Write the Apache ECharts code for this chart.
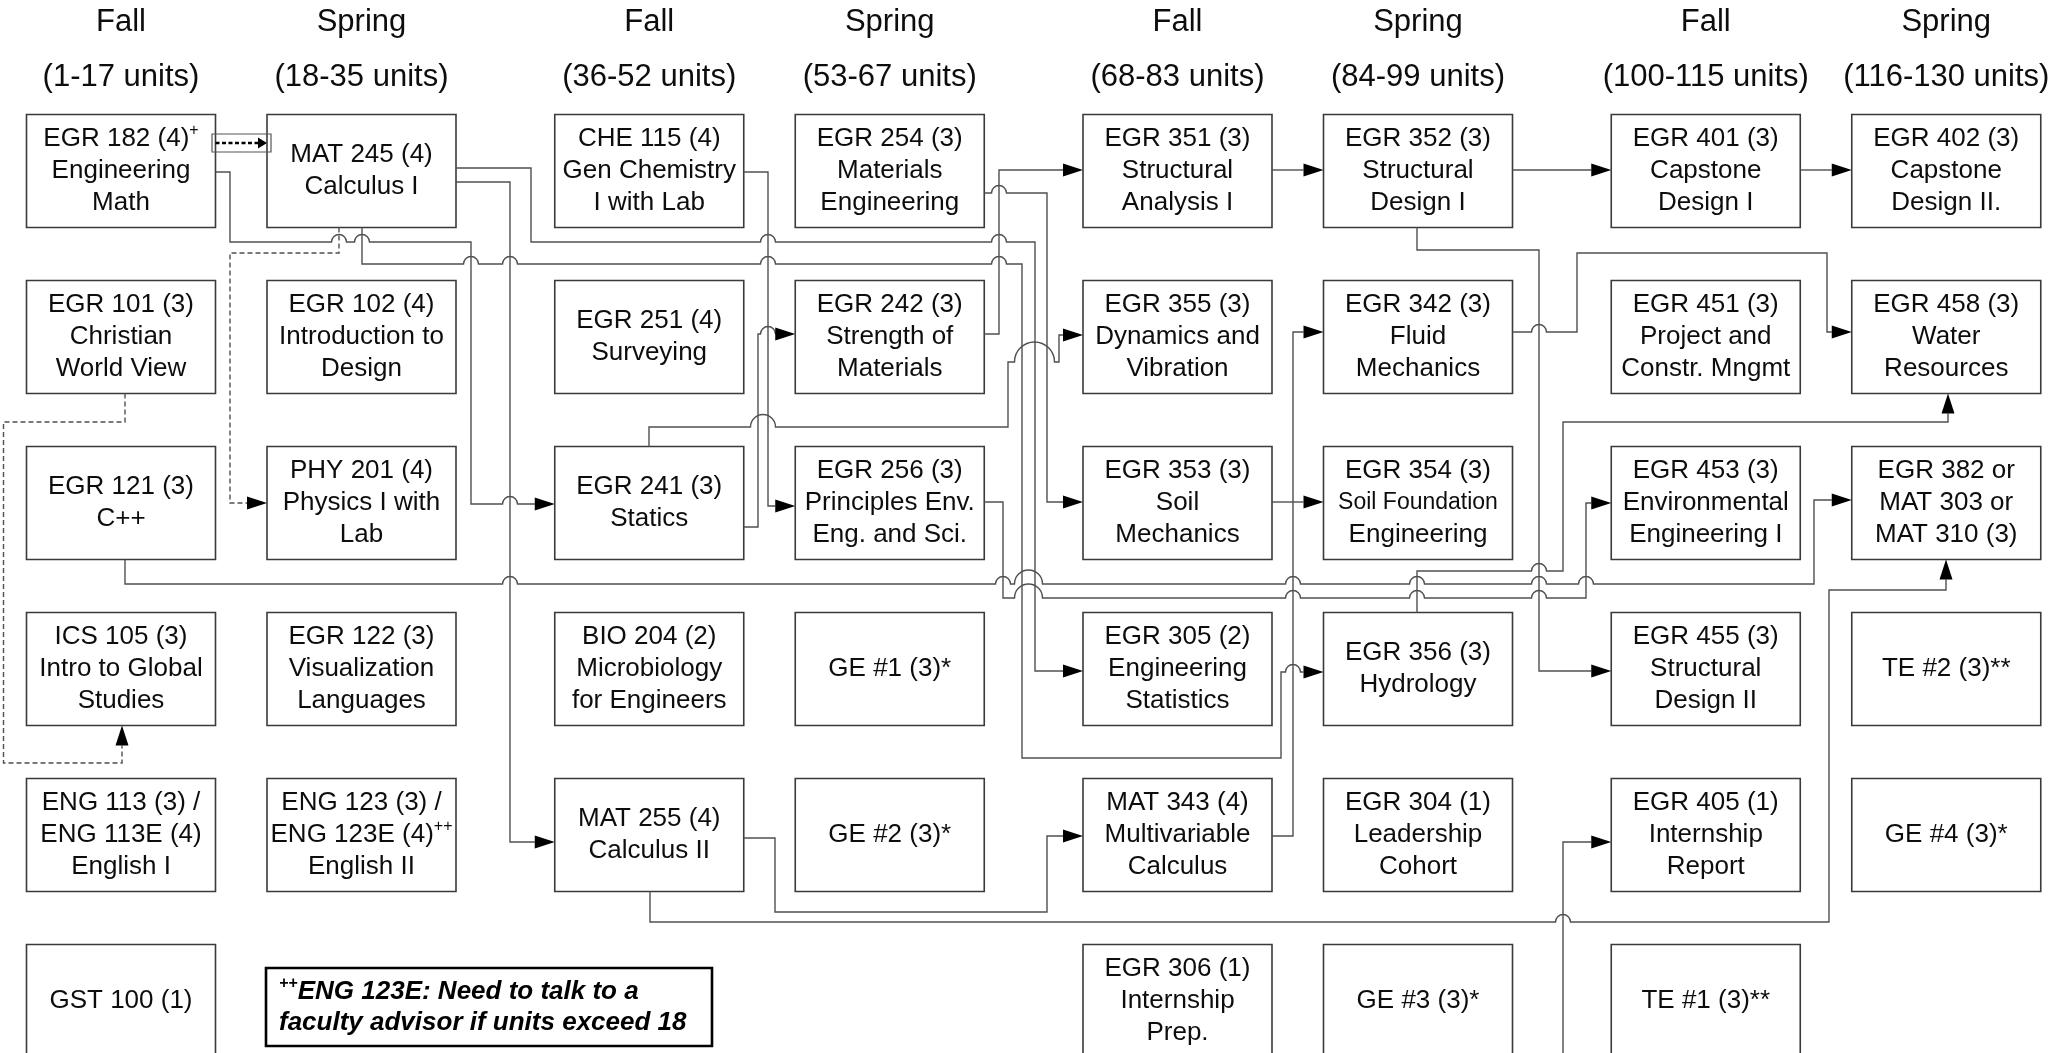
<!DOCTYPE html>
<html>
<head>
<meta charset="utf-8">
<script src="https://cdn.jsdelivr.net/npm/echarts@6/dist/echarts.min.js"></script>
<style>
html,body{margin:0;padding:0;background:#ffffff;}
#main{width:2063px;height:1053px;}
</style>
</head>
<body>
<div id="main"></div>
<script>
// ================= DATA =================
const seasons = ['Fall', 'Spring', 'Fall', 'Spring', 'Fall', 'Spring', 'Fall', 'Spring'];
const unitRanges = ['(1-17 units)', '(18-35 units)', '(36-52 units)', '(53-67 units)',
                    '(68-83 units)', '(84-99 units)', '(100-115 units)', '(116-130 units)'];

// courses of each semester, top to bottom ("^" marks a superscript)
const year1Fall = ['EGR 182 (4)^+\nEngineering\nMath', 'EGR 101 (3)\nChristian\nWorld View', 'EGR 121 (3)\nC++',
                   'ICS 105 (3)\nIntro to Global\nStudies', 'ENG 113 (3) /\nENG 113E (4)\nEnglish I', 'GST 100 (1)'];
const year1Spring = ['MAT 245 (4)\nCalculus I', 'EGR 102 (4)\nIntroduction to\nDesign', 'PHY 201 (4)\nPhysics I with\nLab',
                     'EGR 122 (3)\nVisualization\nLanguages', 'ENG 123 (3) /\nENG 123E (4)^++\nEnglish II'];
const year2Fall = ['CHE 115 (4)\nGen Chemistry\nI with Lab', 'EGR 251 (4)\nSurveying', 'EGR 241 (3)\nStatics',
                   'BIO 204 (2)\nMicrobiology\nfor Engineers', 'MAT 255 (4)\nCalculus II'];
const year2Spring = ['EGR 254 (3)\nMaterials\nEngineering', 'EGR 242 (3)\nStrength of\nMaterials',
                     'EGR 256 (3)\nPrinciples Env.\nEng. and Sci.', 'GE #1 (3)*', 'GE #2 (3)*'];
const year3Fall = ['EGR 351 (3)\nStructural\nAnalysis I', 'EGR 355 (3)\nDynamics and\nVibration', 'EGR 353 (3)\nSoil\nMechanics',
                   'EGR 305 (2)\nEngineering\nStatistics', 'MAT 343 (4)\nMultivariable\nCalculus', 'EGR 306 (1)\nInternship\nPrep.'];
const year3Spring = ['EGR 352 (3)\nStructural\nDesign I', 'EGR 342 (3)\nFluid\nMechanics', 'EGR 354 (3)\nSoil Foundation\nEngineering',
                     'EGR 356 (3)\nHydrology', 'EGR 304 (1)\nLeadership\nCohort', 'GE #3 (3)*'];
const year4Fall = ['EGR 401 (3)\nCapstone\nDesign I', 'EGR 451 (3)\nProject and\nConstr. Mngmt', 'EGR 453 (3)\nEnvironmental\nEngineering I',
                   'EGR 455 (3)\nStructural\nDesign II', 'EGR 405 (1)\nInternship\nReport', 'TE #1 (3)**'];
const year4Spring = ['EGR 402 (3)\nCapstone\nDesign II.', 'EGR 458 (3)\nWater\nResources', 'EGR 382 or\nMAT 303 or\nMAT 310 (3)',
                     'TE #2 (3)**', 'GE #4 (3)*'];

const noteText = ['^++ENG 123E: Need to talk to a', 'faculty advisor if units exceed 18'];

// prerequisite links: [from, to, kind]
const prereqs = [
  ['EGR 182', 'MAT 245', 'coreq'],
  ['EGR 182', 'EGR 241', 'solid'],
  ['MAT 245', 'MAT 255', 'solid'],
  ['MAT 245', 'EGR 305', 'solid'],
  ['MAT 245', 'EGR 356', 'solid'],
  ['MAT 245', 'PHY 201', 'dashed'],
  ['EGR 101', 'ICS 105', 'dashed'],
  ['EGR 121', 'EGR 382', 'solid'],
  ['CHE 115', 'EGR 256', 'solid'],
  ['EGR 241', 'EGR 242', 'solid'],
  ['EGR 241', 'EGR 355', 'solid'],
  ['EGR 256', 'EGR 453', 'solid'],
  ['EGR 254', 'EGR 353', 'solid'],
  ['EGR 242', 'EGR 351', 'solid'],
  ['EGR 351', 'EGR 352', 'solid'],
  ['EGR 352', 'EGR 401', 'solid'],
  ['EGR 401', 'EGR 402', 'solid'],
  ['EGR 353', 'EGR 354', 'solid'],
  ['MAT 255', 'MAT 343', 'solid'],
  ['MAT 255', 'EGR 382', 'solid'],
  ['MAT 343', 'EGR 342', 'solid'],
  ['EGR 352', 'EGR 455', 'solid'],
  ['EGR 342', 'EGR 458', 'solid'],
  ['EGR 356', 'EGR 458', 'solid'],
  ['EGR 306', 'EGR 405', 'solid']
];

// ================= LAYOUT =================
const semesters = [year1Fall, year1Spring, year2Fall, year2Spring, year3Fall, year3Spring, year4Fall, year4Spring];
const W = 2063, H = 1053;
const COL0 = 121, YEAR_STEP = 528.25, TERM_STEP = 240.5;
const ROW0 = 171, ROW_STEP = 166;
const BOX_W = 189, BOX_H = 113;
const HEAD_Y1 = 22, HEAD_Y2 = 77;
const NOTE = {left: 266, top: 968, width: 446, height: 78, pad: 13};
const smallLines = {'Soil Foundation': true};
function colX(s) { return COL0 + Math.floor(s / 2) * YEAR_STEP + (s % 2) * TERM_STEP; }
function rowY(r) { return ROW0 + r * ROW_STEP; }

// orthogonal routes: start side, alternating coordinates, end side
const routes = {
  'EGR 182>MAT 245': {from: 'R', path: [143], to: 'L'},
  'EGR 182>EGR 241': {from: 'R', path: [172, 230, 242, 471, 504], to: 'L'},
  'MAT 245>MAT 255': {from: 'R', path: [182, 510, 842], to: 'L'},
  'MAT 245>EGR 305': {from: 'R', path: [168, 531, 242, 1035, 671], to: 'L'},
  'MAT 245>EGR 356': {from: 'B', path: [362, 264, 1022, 758, 1281, 672], to: 'L'},
  'MAT 245>PHY 201': {from: 'B', path: [339, 253, 230, 503], to: 'L'},
  'EGR 101>ICS 105': {from: 'B', path: [125, 422, 3.5, 763, 122], to: 'B'},
  'EGR 121>EGR 382': {from: 'B', path: [125, 584, 1814, 500], to: 'L'},
  'CHE 115>EGR 256': {from: 'R', path: [172, 768, 506], to: 'L'},
  'EGR 241>EGR 242': {from: 'R', path: [527, 758, 334], to: 'L'},
  'EGR 241>EGR 355': {from: 'T', path: [649, 427, 1008, 362, 1059, 335], to: 'L'},
  'EGR 256>EGR 453': {from: 'R', path: [502, 1003, 598, 1586, 503], to: 'L'},
  'EGR 254>EGR 353': {from: 'R', path: [193, 1047, 502], to: 'L'},
  'EGR 242>EGR 351': {from: 'R', path: [334, 999, 170], to: 'L'},
  'EGR 351>EGR 352': {from: 'R', path: [170], to: 'L'},
  'EGR 352>EGR 401': {from: 'R', path: [170], to: 'L'},
  'EGR 401>EGR 402': {from: 'R', path: [170], to: 'L'},
  'EGR 353>EGR 354': {from: 'R', path: [502], to: 'L', noHop: true},
  'MAT 255>MAT 343': {from: 'R', path: [838, 775, 912, 1047, 836], to: 'L'},
  'MAT 255>EGR 382': {from: 'B', path: [650, 922, 1829, 590, 1946], to: 'B'},
  'MAT 343>EGR 342': {from: 'R', path: [836, 1293, 332], to: 'L'},
  'EGR 352>EGR 455': {from: 'B', path: [1417, 250, 1539, 671], to: 'L'},
  'EGR 342>EGR 458': {from: 'R', path: [332, 1577, 253, 1827, 332], to: 'L'},
  'EGR 356>EGR 458': {from: 'T', path: [1417, 571, 1563, 422, 1948], to: 'B'},
  'EGR 306>EGR 405': {from: 'B', path: [1177, 1075, 1563, 842], to: 'L'}
};

const FONT = '"Liberation Sans", Arial, Helvetica, sans-serif';
const TEXT_COLOR = '#0d0d0d';
const LINE_COLOR = '#505050';
const BOX_STROKE = '#3a3a3a';
const HOP_R = 7.5, ARROW_L = 20, ARROW_W = 6.5;

const RICH = {
  t: {fontFamily: FONT, fontSize: 26, lineHeight: 32, fill: TEXT_COLOR},
  s: {fontFamily: FONT, fontSize: 23, lineHeight: 32, fill: TEXT_COLOR},
  sup: {fontFamily: FONT, fontSize: 16, lineHeight: 17, verticalAlign: 'top', fill: TEXT_COLOR},
  nb: {fontFamily: FONT, fontSize: 26, lineHeight: 31, fontWeight: 'bold', fontStyle: 'italic', fill: '#000'},
  ns: {fontFamily: FONT, fontSize: 16, lineHeight: 16, fontWeight: 'bold', fontStyle: 'italic', verticalAlign: 'top', fill: '#000'}
};

// build the course list
const courses = [];
const courseMap = {};
semesters.forEach((list, s) => {
  list.forEach((text, r) => {
    if (!text) return;
    const first = text.split('\n')[0].replace(/\^.*$/, '');
    const key = first.split(' ').slice(0, 2).join(' ');
    const c = {sem: s, row: r, text: text, key: key};
    courses.push(c);
    courseMap[key] = c;
  });
});

function richLine(line, mainStyle, supStyle) {
  const m = line.match(/^(.*?)\^(.+)$/);
  if (m) return '{' + mainStyle + '|' + m[1] + '}{' + supStyle + '|' + m[2] + '}';
  return '{' + mainStyle + '|' + line + '}';
}
function courseRich(text) {
  return text.split('\n').map(l => {
    const plain = l.replace(/\^.*$/, '');
    const st = smallLines[plain] ? 's' : 't';
    return richLine(l, st, 'sup');
  }).join('\n');
}
function noteRich() {
  return noteText.map(l => {
    const m = l.match(/^\^(\+\+)(.*)$/);
    if (m) return '{ns|' + m[1] + '}{nb|' + m[2] + '}';
    return '{nb|' + l + '}';
  }).join('\n');
}

function rectOf(c) {
  const cx = colX(c.sem), cy = rowY(c.row);
  return {left: cx - BOX_W / 2, right: cx + BOX_W / 2, top: cy - BOX_H / 2, bottom: cy + BOX_H / 2};
}
function routeOf(e) { return routes[e[0] + '>' + e[1]]; }
function buildPoints(e) {
  const a = courseMap[e[0]], b = courseMap[e[1]];
  const ra = rectOf(a), rb = rectOf(b);
  const R = routeOf(e);
  const p = R.path;
  let x, y, horiz;
  if (R.from === 'R') { x = ra.right; y = p[0]; horiz = true; }
  else if (R.from === 'B') { x = p[0]; y = ra.bottom; horiz = false; }
  else { x = p[0]; y = ra.top; horiz = false; }
  const pts = [[x, y]];
  for (let i = 1; i < p.length; i++) {
    if (horiz) x = p[i]; else y = p[i];
    pts.push([x, y]);
    horiz = !horiz;
  }
  if (R.to === 'L') x = rb.left; else if (R.to === 'T') y = rb.top; else y = rb.bottom;
  pts.push([x, y]);
  return pts;
}

let geom = null;
function computeGeometry(api) {
  const polys = prereqs.map(e => buildPoints(e).map(pt => api.coord(pt)));
  const verts = [];
  polys.forEach((pts, ei) => {
    if (prereqs[ei][2] === 'coreq') return;
    for (let i = 1; i < pts.length; i++) {
      const a = pts[i - 1], b = pts[i];
      if (Math.abs(a[0] - b[0]) < 0.5 && Math.abs(a[1] - b[1]) > 0.5) {
        verts.push({edge: ei, x: a[0], y1: Math.min(a[1], b[1]), y2: Math.max(a[1], b[1])});
      }
    }
  });
  return {polys: polys, verts: verts};
}

function edgeElements(ei) {
  const pts = geom.polys[ei].map(p => p.slice());
  const kind = prereqs[ei][2];
  const noHop = !!routeOf(prereqs[ei]).noHop || kind === 'coreq';
  const aL = kind === 'coreq' ? 9 : ARROW_L;
  const aW = kind === 'coreq' ? 5.5 : ARROW_W;
  const n = pts.length;
  const tip = pts[n - 1].slice();
  const prev = pts[n - 2];
  let dx = tip[0] - prev[0], dy = tip[1] - prev[1];
  const len = Math.sqrt(dx * dx + dy * dy) || 1;
  dx /= len; dy /= len;
  const base = [tip[0] - dx * aL, tip[1] - dy * aL];
  pts[n - 1] = base;
  let d = 'M' + pts[0][0] + ' ' + pts[0][1];
  for (let i = 1; i < pts.length; i++) {
    const x0 = pts[i - 1][0], y0 = pts[i - 1][1], x1 = pts[i][0], y1 = pts[i][1];
    if (!noHop && Math.abs(y0 - y1) < 0.5 && Math.abs(x1 - x0) > 0.5) {
      const lo = Math.min(x0, x1), hi = Math.max(x0, x1);
      const xs = geom.verts.filter(v => v.edge !== ei && v.x > lo + 2 && v.x < hi - 2 && y0 > v.y1 + 2 && y0 < v.y2 - 2)
        .map(v => v.x).sort((a, b) => a - b);
      const iv = [];
      xs.forEach(x => {
        const s = x - HOP_R, e = x + HOP_R;
        if (iv.length && s <= iv[iv.length - 1][1] + 0.5) iv[iv.length - 1][1] = e;
        else iv.push([s, e]);
      });
      const dir = x1 > x0 ? 1 : -1;
      if (dir < 0) iv.reverse();
      iv.forEach(h => {
        const r = (h[1] - h[0]) / 2;
        const s = dir > 0 ? h[0] : h[1], e = dir > 0 ? h[1] : h[0];
        d += ' L' + s + ' ' + y0 + ' A' + r + ' ' + r + ' 0 0 ' + (dir > 0 ? 1 : 0) + ' ' + e + ' ' + y0;
      });
    }
    d += ' L' + x1 + ' ' + y1;
  }
  const nx = -dy, ny = dx;
  const children = [];
  if (kind === 'coreq') {
    const y = tip[1];
    const x0 = geom.polys[ei][0][0];
    children.push({type: 'rect', shape: {x: x0 - 3.5, y: y - 9, width: tip[0] - x0 + 7.5, height: 18},
      style: {fill: 'none', stroke: '#555', lineWidth: 1.2}});
  }
  children.push({type: 'path', shape: {pathData: d},
    style: {fill: 'none', stroke: kind === 'coreq' ? '#000' : LINE_COLOR,
      lineWidth: kind === 'coreq' ? 2.4 : 1.4,
      lineDash: kind === 'coreq' ? [4, 2.5] : (kind === 'dashed' ? [5, 3] : null)}});
  children.push({type: 'polygon', shape: {points: [tip, [base[0] + nx * aW, base[1] + ny * aW], [base[0] - nx * aW, base[1] - ny * aW]]},
    style: {fill: '#000', stroke: null}});
  return {type: 'group', children: children};
}

const chart = echarts.init(document.getElementById('main'));
chart.setOption({
  backgroundColor: '#ffffff',
  animation: false,
  grid: {left: 0, right: 0, top: 0, bottom: 0},
  xAxis: {type: 'value', min: 0, max: W, show: false},
  yAxis: {type: 'value', min: 0, max: H, inverse: true, show: false},
  series: [
    {
      type: 'custom', name: 'headers', silent: true,
      data: seasons.map((s, i) => [i, 0]),
      renderItem: function (params, api) {
        const i = params.dataIndex;
        const p1 = api.coord([colX(i), HEAD_Y1]);
        const p2 = api.coord([colX(i), HEAD_Y2]);
        const st = {fontFamily: FONT, fontSize: 31, fill: TEXT_COLOR, align: 'center', verticalAlign: 'middle'};
        return {type: 'group', children: [
          {type: 'text', x: p1[0], y: p1[1], style: Object.assign({text: seasons[i]}, st)},
          {type: 'text', x: p2[0], y: p2[1], style: Object.assign({text: unitRanges[i]}, st)}
        ]};
      }
    },
    {
      type: 'custom', name: 'courses', silent: true,
      data: courses.map((c, i) => [i, 0]),
      renderItem: function (params, api) {
        const c = courses[params.dataIndex];
        const p = api.coord([colX(c.sem), rowY(c.row)]);
        const sz = api.size([BOX_W, BOX_H]);
        return {type: 'group', children: [
          {type: 'rect', shape: {x: p[0] - sz[0] / 2, y: p[1] - sz[1] / 2, width: sz[0], height: sz[1]},
            style: {fill: '#ffffff', stroke: BOX_STROKE, lineWidth: 1.6}},
          {type: 'text', x: p[0], y: p[1],
            style: {text: courseRich(c.text), rich: RICH, align: 'center', verticalAlign: 'middle',
              fontFamily: FONT, fontSize: 26, fill: TEXT_COLOR}}
        ]};
      }
    },
    {
      type: 'custom', name: 'note', silent: true,
      data: [[0, 0]],
      renderItem: function (params, api) {
        const p = api.coord([NOTE.left, NOTE.top]);
        const sz = api.size([NOTE.width, NOTE.height]);
        return {type: 'group', children: [
          {type: 'rect', shape: {x: p[0], y: p[1], width: sz[0], height: sz[1]},
            style: {fill: '#ffffff', stroke: '#000', lineWidth: 2.6}},
          {type: 'text', x: p[0] + NOTE.pad, y: p[1] + sz[1] / 2,
            style: {text: noteRich(), rich: RICH, align: 'left', verticalAlign: 'middle',
              fontFamily: FONT, fontSize: 26, fill: '#000'}}
        ]};
      }
    },
    {
      type: 'custom', name: 'prerequisites', silent: true,
      data: prereqs.map((e, i) => [i, 0]),
      renderItem: function (params, api) {
        if (params.dataIndexInside === 0 || !geom) geom = computeGeometry(api);
        return edgeElements(params.dataIndex);
      }
    }
  ]
});
</script>
</body>
</html>
